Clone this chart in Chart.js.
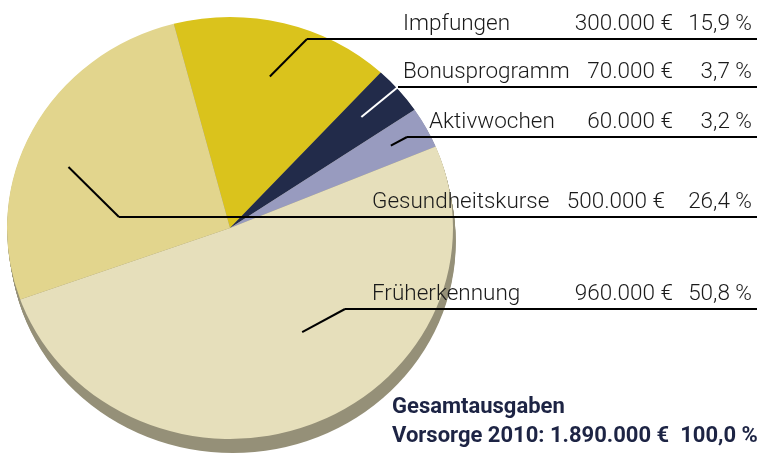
<!DOCTYPE html>
<html lang="de">
<head>
<meta charset="utf-8">
<script src="https://cdn.jsdelivr.net/npm/chart.js@4/dist/chart.umd.min.js"></script>
<style>
    html, body { margin: 0; padding: 0; background: #fff; }
    #wrap { width: 760px; height: 453px; position: relative; }
</style>
</head>
<body>
<div id="wrap"><canvas id="pieChart" width="760" height="453"></canvas></div>
<script>
// --- Daten ---
const categories = ['Impfungen', 'Bonusprogramm', 'Aktivwochen', 'Früherkennung', 'Gesundheitskurse'];
const amounts = [300000, 70000, 60000, 960000, 500000];
const shares = [15.9, 3.7, 3.2, 50.8, 26.4];
const totalTitle = 'Gesamtausgaben';
const totalPrefix = 'Vorsorge 2010:';
const totalAmount = 1890000;
const totalShare = 100.0;

// --- Stil ---
const sliceColors = ['#dac31c', '#222b4a', '#989bbf', '#e6dfbb', '#e2d58d'];
const rimColor = '#959078';
const squash = 0.946;  // Ellipse (Draufsicht leicht gekippt)
const rimDepth = 14;

// Beschriftung: Linienhöhe, Knick, Textpositionen, Ankerpunkt im Segment
const labelLayout = [
    { lineY: 39,  elbowX: 307, nameX: 403, amountX: 673, shift: 0,   r: 0.74, leader: '#000' },
    { lineY: 87,  elbowX: 398, nameX: 403, amountX: 673, shift: -1,  r: 0.79, leader: '#fff' },
    { lineY: 137, elbowX: 407, nameX: 429, amountX: 673, shift: 0,   r: 0.82, leader: '#000' },
    { lineY: 309, elbowX: 345, nameX: 372, amountX: 673, shift: -12, r: 0.59, leader: '#000' },
    { lineY: 217, elbowX: 119, nameX: 372, amountX: 665, shift: -6,  r: 0.78, leader: '#000' }
];
const lineEndX = 757;
const pctRightX = 752;

const fmtAmount = v => v.toLocaleString('de-DE') + ' €';
const fmtPct = v => v.toFixed(1).replace('.', ',') + ' %';

function pieGeometry(chart) {
    const arc = chart.getDatasetMeta(0).data[0];
    return arc.getProps(['x', 'y', 'outerRadius'], true);
}

// 3D-Rand + Stauchung der Torte
const tiltPlugin = {
    id: 'tilt',
    beforeDatasetsDraw(chart) {
        const ctx = chart.ctx;
        const { x, y, outerRadius } = pieGeometry(chart);
        ctx.save();
        ctx.fillStyle = rimColor;
        for (let d = 1; d <= rimDepth; d++) {
            ctx.beginPath();
            ctx.ellipse(x + d * 0.2, y + d, outerRadius, outerRadius * squash, 0, 0, Math.PI * 2);
            ctx.fill();
        }
        ctx.translate(x, y);
        ctx.scale(1, squash);
        ctx.translate(-x, -y);
    },
    afterDatasetsDraw(chart) {
        chart.ctx.restore();
    }
};

const labelPlugin = {
    id: 'pieLabels',
    afterDraw(chart) {
        const ctx = chart.ctx;
        const meta = chart.getDatasetMeta(0);
        ctx.save();
        ctx.lineCap = 'butt';

        meta.data.forEach((arc, i) => {
            const L = labelLayout[i];
            const p = arc.getProps(['x', 'y', 'startAngle', 'endAngle', 'outerRadius'], true);
            const mid = (p.startAngle + p.endAngle) / 2 + L.shift * Math.PI / 180;
            const ax = p.x + Math.cos(mid) * p.outerRadius * L.r;
            const ay = p.y + Math.sin(mid) * p.outerRadius * L.r * squash;

            ctx.strokeStyle = L.leader;
            ctx.lineWidth = 2;
            ctx.beginPath();
            ctx.moveTo(ax, ay);
            ctx.lineTo(L.elbowX, L.lineY);
            ctx.stroke();

            ctx.strokeStyle = '#000';
            ctx.beginPath();
            ctx.moveTo(L.elbowX, L.lineY);
            ctx.lineTo(lineEndX, L.lineY);
            ctx.stroke();

            const base = L.lineY - 9;
            ctx.fillStyle = '#1a1a1a';
            ctx.font = '300 22.5px Roboto, "Liberation Sans", sans-serif';
            ctx.textBaseline = 'alphabetic';
            ctx.textAlign = 'left';
            ctx.fillText(categories[i], L.nameX, base);
            ctx.textAlign = 'right';
            ctx.fillText(fmtAmount(amounts[i]), L.amountX, base);
            ctx.fillText(fmtPct(shares[i]), pctRightX, base);
        });

        // Summe
        ctx.fillStyle = '#1d2444';
        ctx.font = 'bold 22px Roboto, "Liberation Sans", sans-serif';
        ctx.textAlign = 'left';
        ctx.fillText(totalTitle, 392, 413);
        ctx.fillText(totalPrefix + ' ' + fmtAmount(totalAmount) + '  ' + fmtPct(totalShare), 392, 442);
        ctx.restore();
    }
};

new Chart(document.getElementById('pieChart'), {
    type: 'pie',
    data: {
        labels: categories,
        datasets: [{
            data: amounts,
            backgroundColor: sliceColors,
            borderWidth: 0
        }]
    },
    options: {
        responsive: false,
        animation: false,
        rotation: -14.6,
        layout: { padding: { left: 7, right: 307, top: 5, bottom: 2 } },
        plugins: {
            legend: { display: false },
            tooltip: { enabled: false }
        }
    },
    plugins: [tiltPlugin, labelPlugin]
});
</script>
</body>
</html>
